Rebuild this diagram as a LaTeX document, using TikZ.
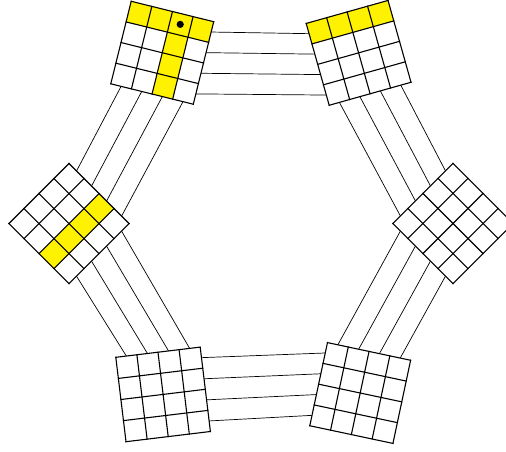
\documentclass[tikz,border=0pt]{standalone}
\pgfdeclarelayer{bg}
\pgfsetlayers{bg,main}
\def\hh{42.5}
\def\ss{21.25}
\tikzset{
  gridline/.style={line width=1.1pt, line cap=rect},
  link/.style={line width=0.7pt},
  cellfill/.style={fill=yellow},
}
\newcommand\facegrid[4]{%
  \begin{scope}[shift={#2}, rotate=#3]
    \fill[white] (-\hh,-\hh) rectangle (\hh,\hh);
    \def\tmplist{#4}%
    \ifx\tmplist\empty\else
      \foreach \r/\c in {#4} {
        \fill[cellfill] ({-\hh+\c*\ss},{-\hh+\r*\ss}) rectangle ({-\hh+(\c+1)*\ss},{-\hh+(\r+1)*\ss});
      }
    \fi
    \foreach \i in {0,...,4} {
      \draw[gridline] ({-\hh+\i*\ss},-\hh) -- ({-\hh+\i*\ss},\hh);
      \draw[gridline] (-\hh,{-\hh+\i*\ss}) -- (\hh,{-\hh+\i*\ss});
    }
    \coordinate (#1) at (0,0);
    \foreach \k in {1,...,4} {
      \coordinate (#1-E\k) at (\hh,{-\hh+(\k-0.5)*\ss});
      \coordinate (#1-W\k) at (-\hh,{-\hh+(\k-0.5)*\ss});
      \coordinate (#1-N\k) at ({-\hh+(\k-0.5)*\ss},-\hh);
      \coordinate (#1-S\k) at ({-\hh+(\k-0.5)*\ss},\hh);
    }
  \end{scope}}
\begin{document}
\begin{tikzpicture}[x=1pt,y=-1pt]
\useasboundingbox (0,0) rectangle (506,451);
\clip (0,0) rectangle (506,451);
\facegrid{TL}{(162.25,52.75)}{-13.9}{0/0,0/1,0/2,0/3,1/2,2/2,3/2}
\facegrid{TR}{(358.6,52.85)}{15.7}{0/0,0/1,0/2,0/3}
\facegrid{L}{(69,223.6)}{45}{2/0,2/1,2/2,2/3}
\facegrid{R}{(453,223.5)}{45}{}
\facegrid{BL}{(163.1,394.4)}{6.9}{}
\facegrid{BR}{(360.2,393)}{-12}{}
\begin{scope}[shift={(162.25,52.75)}, rotate=-13.9]
  \coordinate (dotpos) at ({-\hh+2.5*\ss},{-\hh+0.5*\ss});
\end{scope}
\fill (dotpos) circle (3.6);
\begin{pgfonlayer}{bg}
\foreach \k in {1,...,4} {
  \draw[link] (TL-E\k) -- (TR-W\k);
  \draw[link] (TL-S\k) -- (L-E\k);
  \draw[link] (L-S\k) -- (BL-N\k);
  \draw[link] (BL-E\k) -- (BR-W\k);
  \draw[link] (BR-N\k) -- (R-W\k);
  \draw[link] (R-N\k) -- (TR-S\k);
}
\end{pgfonlayer}
\end{tikzpicture}
\end{document}
